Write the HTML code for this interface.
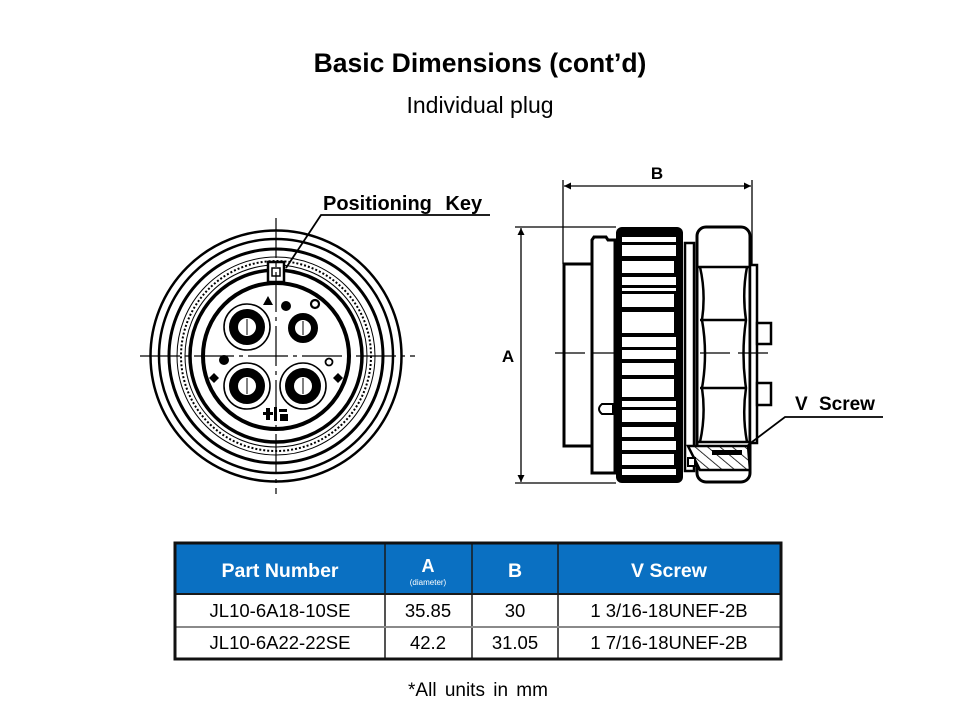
<!DOCTYPE html>
<html><head><meta charset="utf-8"><style>
html,body{margin:0;padding:0;background:#fff;}
svg{display:block;}
text{font-family:"Liberation Sans",Arial,sans-serif;}
</style></head><body>
<svg width="960" height="720" viewBox="0 0 960 720" xmlns="http://www.w3.org/2000/svg">
<defs>
<marker id="ar" viewBox="0 0 10 10" refX="10" refY="5" markerWidth="9" markerHeight="7" orient="auto-start-reverse" markerUnits="userSpaceOnUse"><path d="M0,0 L10,5 L0,10 z" fill="#000"/></marker>
<pattern id="hatch" width="8" height="8" patternUnits="userSpaceOnUse" patternTransform="rotate(-50)"><rect width="8" height="8" fill="#fff"/><line x1="0" y1="0" x2="0" y2="8" stroke="#000" stroke-width="1.6"/></pattern>
</defs>

<!-- Titles -->
<text x="480" y="72" font-size="26.5" font-weight="bold" text-anchor="middle">Basic Dimensions (cont’d)</text>
<text x="480" y="113" font-size="23" text-anchor="middle">Individual plug</text>

<!-- ============ FRONT VIEW ============ -->
<g fill="none" stroke="#000">
  <circle cx="276" cy="356" r="125.5" stroke-width="2.5"/>
  <circle cx="276" cy="356" r="117" stroke-width="2.5"/>
  <circle cx="276" cy="356" r="107" stroke-width="3"/>
  <circle cx="276" cy="356" r="99" stroke-width="1"/>
  <circle cx="276" cy="356" r="95" stroke-width="2" stroke-dasharray="2 2"/>
  <circle cx="276" cy="356" r="91" stroke-width="1"/>
  <circle cx="276" cy="356" r="86" stroke-width="3.5"/>
  <circle cx="276" cy="356" r="73" stroke-width="4"/>
</g>
<!-- key -->
<rect x="267" y="262" width="18" height="20" fill="#fff"/>
<rect x="268" y="262" width="16" height="20" fill="none" stroke="#000" stroke-width="2.5"/>
<rect x="272" y="268" width="8" height="8" fill="none" stroke="#000" stroke-width="1.5"/>
<!-- crosshairs -->
<g stroke="#000" stroke-width="1.2">
  <line x1="140" y1="356" x2="415" y2="356" stroke-dasharray="40 5 4 5"/>
  <line x1="276" y1="218" x2="276" y2="494" stroke-dasharray="40 5 4 5"/>
</g>
<!-- contacts -->
<g fill="none" stroke="#000">
  <circle cx="247" cy="327" r="23" stroke-width="1.6"/>
  <circle cx="247" cy="327" r="13.5" stroke-width="9"/>
  <circle cx="247" cy="386" r="23" stroke-width="1.6"/>
  <circle cx="247" cy="386" r="13.5" stroke-width="9"/>
  <circle cx="303" cy="386" r="23" stroke-width="1.6"/>
  <circle cx="303" cy="386" r="13.5" stroke-width="9"/>
  <circle cx="303" cy="328" r="11.5" stroke-width="7"/>
  <circle cx="315" cy="304" r="4" stroke-width="2.2"/>
  <circle cx="329" cy="362" r="3.5" stroke-width="1.8"/>
</g>
<g stroke="#000" stroke-width="1">
  <line x1="247" y1="319" x2="247" y2="335"/>
  <line x1="247" y1="378" x2="247" y2="394"/>
  <line x1="303" y1="378" x2="303" y2="394"/>
  <line x1="303" y1="321" x2="303" y2="335"/>
</g>
<g fill="#000">
  <polygon points="268,296 273,305 263,305"/>
  <circle cx="286" cy="306" r="5"/>
  <circle cx="224" cy="360" r="5"/>
  <polygon points="214,373 219,378 214,383 209,378"/>
  <polygon points="338,373 343,378 338,383 333,378"/>
  <rect x="266" y="408" width="4" height="12"/>
  <rect x="263" y="412" width="10" height="3"/>
  <rect x="274" y="407" width="3" height="14"/>
  <rect x="279" y="409" width="8" height="3"/>
  <rect x="280" y="414" width="8" height="7"/>
</g>
<!-- Positioning key leader -->
<g stroke="#000" stroke-width="1.8" fill="none">
  <polyline points="490,215 321,215 286,268"/>
</g>
<text x="323" y="210" font-size="20" font-weight="bold" word-spacing="8">Positioning Key</text>

<!-- ============ SIDE VIEW ============ -->
<g stroke="#000" stroke-width="1.3" fill="none">
  <line x1="563" y1="180" x2="563" y2="264"/>
  <line x1="752" y1="180" x2="752" y2="266"/>
  <line x1="564" y1="186" x2="751" y2="186" marker-start="url(#ar)" marker-end="url(#ar)"/>
  <line x1="515" y1="227" x2="616" y2="227"/>
  <line x1="515" y1="483" x2="616" y2="483"/>
  <line x1="521" y1="228" x2="521" y2="482" marker-start="url(#ar)" marker-end="url(#ar)"/>
</g>
<text x="657" y="179" font-size="17" font-weight="bold" text-anchor="middle">B</text>
<text x="508" y="362" font-size="17" font-weight="bold" text-anchor="middle">A</text>

<!-- rear flange -->
<rect x="564" y="264" width="28" height="182" fill="#fff" stroke="#000" stroke-width="3"/>
<!-- body -->
<path d="M592,240 L592,473 L615,473 L615,240 L608,240 L606,237 L594,237 Z" fill="#fff" stroke="#000" stroke-width="3"/>
<path d="M613,404 L602,404 Q596,409 602,414 L613,414 Z" fill="#fff" stroke="#000" stroke-width="2"/>
<!-- knurled nut -->
<rect x="616" y="227" width="67" height="256" rx="6" fill="#000"/>
<g fill="#fff">
  <rect x="622" y="237" width="54" height="5"/>
  <rect x="622" y="245" width="54" height="11"/>
  <rect x="622" y="261" width="52" height="12"/>
  <rect x="622" y="277" width="54" height="8"/>
  <rect x="622" y="288" width="54" height="3"/>
  <rect x="622" y="294" width="52" height="13"/>
  <rect x="622" y="312" width="52" height="21"/>
  <rect x="622" y="337" width="54" height="10"/>
  <rect x="622" y="350" width="54" height="9"/>
  <rect x="622" y="363" width="52" height="12"/>
  <rect x="622" y="379" width="52" height="18"/>
  <rect x="622" y="401" width="54" height="6"/>
  <rect x="622" y="410" width="54" height="12"/>
  <rect x="622" y="427" width="52" height="10"/>
  <rect x="622" y="441" width="54" height="9"/>
  <rect x="622" y="454" width="52" height="11"/>
  <rect x="622" y="469" width="54" height="6"/>
</g>
<!-- gap strip -->
<rect x="685" y="243" width="9" height="228" fill="#fff" stroke="#000" stroke-width="2.5"/>
<!-- hex nut -->
<rect x="697" y="227" width="53" height="255" rx="9" fill="#fff" stroke="#000" stroke-width="3"/>
<g stroke="#000" stroke-width="2.5" fill="none">
  <line x1="698" y1="267" x2="749" y2="267"/>
  <line x1="700" y1="320" x2="747" y2="320"/>
  <line x1="700" y1="388" x2="747" y2="388"/>
  <line x1="698" y1="442" x2="749" y2="442"/>
  <path d="M700,267 Q706,293 702,320 Q708,354 702,388 Q706,415 700,442"/>
  <path d="M747,267 Q742,293 746,320 Q741,354 746,388 Q742,415 747,442"/>
</g>
<!-- right strip & pins -->
<rect x="750" y="265" width="7" height="178" fill="#fff" stroke="#000" stroke-width="2.5"/>
<rect x="757" y="323" width="14" height="21" fill="#fff" stroke="#000" stroke-width="2.5"/>
<rect x="757" y="383" width="14" height="22" fill="#fff" stroke="#000" stroke-width="2.5"/>
<!-- hatched region -->
<path d="M688,446 L748,446 L750,470 L700,470 Z" fill="url(#hatch)" stroke="#000" stroke-width="2.5"/>
<rect x="712" y="450" width="30" height="5" fill="#000"/>
<rect x="688" y="458" width="7" height="8" fill="#fff" stroke="#000" stroke-width="2"/>
<!-- centerline -->
<g stroke="#000" stroke-width="1.2">
  <line x1="555" y1="353" x2="616" y2="353" stroke-dasharray="30 8"/>
  <line x1="700" y1="353" x2="775" y2="353" stroke-dasharray="30 8"/>
</g>
<!-- V screw leader -->
<polyline points="748,445 785,417 883,417" fill="none" stroke="#000" stroke-width="1.8"/>
<text x="795" y="410" font-size="19" font-weight="bold" word-spacing="6">V Screw</text>

<!-- ============ TABLE ============ -->
<rect x="175" y="543" width="606" height="51" fill="#0a70c2"/>
<rect x="175" y="594" width="606" height="65" fill="#fff"/>
<g stroke="#1a1a1a" stroke-width="1.5">
  <line x1="385" y1="543" x2="385" y2="659"/>
  <line x1="472" y1="543" x2="472" y2="659"/>
  <line x1="558" y1="543" x2="558" y2="659"/>
  <line x1="175" y1="594" x2="781" y2="594" stroke-width="2"/>
</g>
<line x1="175" y1="627" x2="781" y2="627" stroke="#8a8a8a" stroke-width="2"/>
<rect x="175" y="543" width="606" height="116" fill="none" stroke="#111" stroke-width="3"/>
<g fill="#fff" font-weight="bold" text-anchor="middle">
  <text x="280" y="577" font-size="19.5">Part Number</text>
  <text x="428" y="572" font-size="18">A</text>
  <text x="428" y="585" font-size="8" font-weight="normal">(diameter)</text>
  <text x="515" y="577" font-size="19.5">B</text>
  <text x="669" y="577" font-size="19.5">V Screw</text>
</g>
<g fill="#000" font-size="18.5" text-anchor="middle">
  <text x="280" y="617">JL10-6A18-10SE</text>
  <text x="428" y="617">35.85</text>
  <text x="515" y="617">30</text>
  <text x="669" y="617">1 3/16-18UNEF-2B</text>
  <text x="280" y="649">JL10-6A22-22SE</text>
  <text x="428" y="649">42.2</text>
  <text x="515" y="649">31.05</text>
  <text x="669" y="649">1 7/16-18UNEF-2B</text>
</g>
<text x="478" y="696" font-size="19" text-anchor="middle" word-spacing="3">*All units in mm</text>
</svg>
</body></html>
